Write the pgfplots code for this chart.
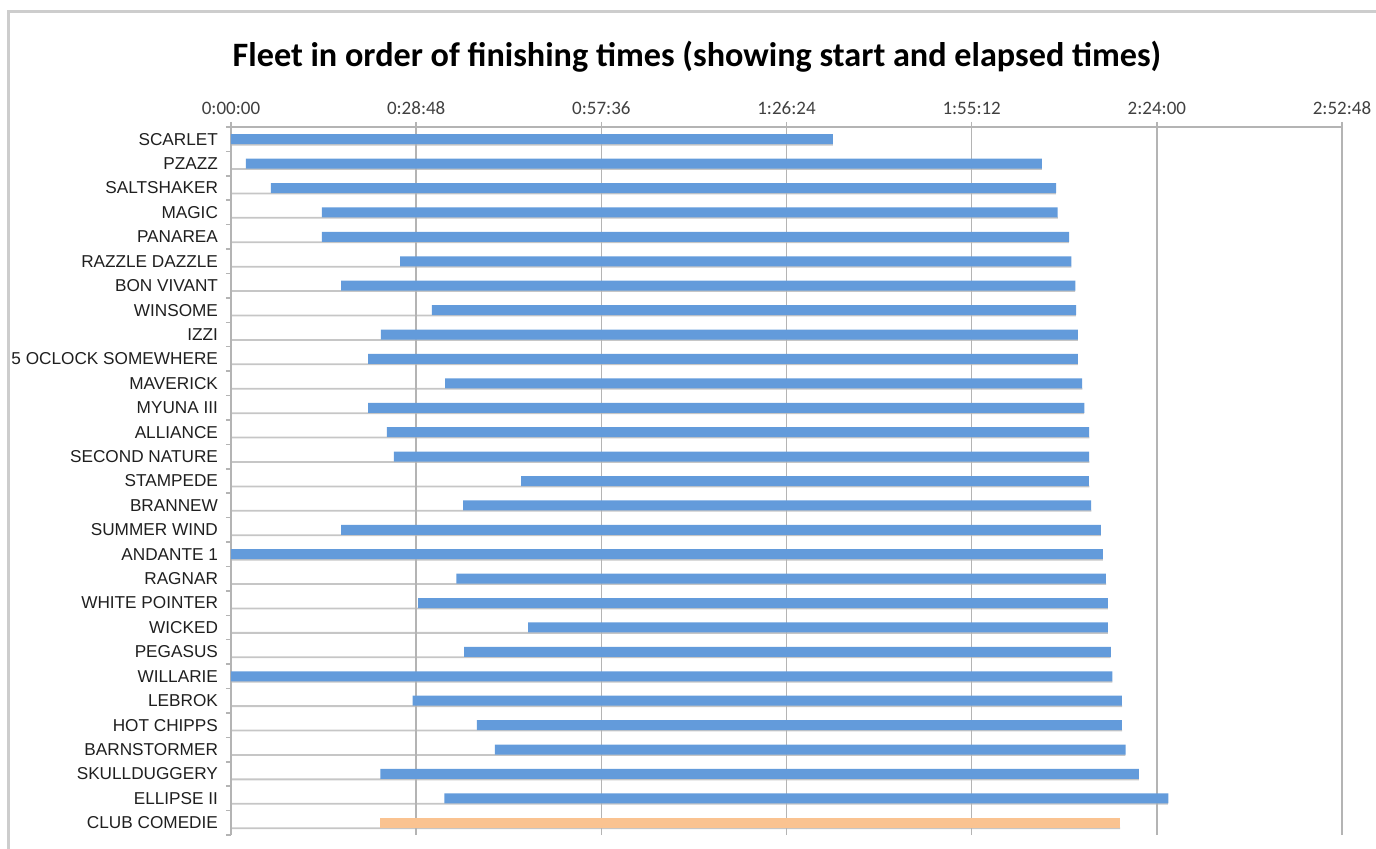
\documentclass[border=0pt]{standalone}
\usepackage{fontspec}
\setmainfont{Liberation Sans}
\newfontfamily\carlito{Carlito}
\usepackage{pgfplots}
\usepackage{pgfplotstable}
\pgfplotsset{compat=1.18}
\definecolor{barblue}{RGB}{99,155,219}
\definecolor{barorange}{RGB}{250,195,145}
\definecolor{gridgray}{RGB}{180,180,180}
\definecolor{framegray}{RGB}{205,205,205}
\pgfplotstableread{
y  s      blue   orange total
28 0      93.6   0      93.6
27 2.33   123.8  0      126.1
26 6.22   122.1  0      128.3
25 14.15  114.4  0      128.6
24 14.15  116.2  0      130.3
23 26.29  104.4  0      130.7
22 17.11  114.2  0      131.3
21 31.26  100.2  0      131.4
20 23.33  108.4  0      131.7
19 21.31  110.4  0      131.7
18 33.29  99.1   0      132.4
17 21.31  111.4  0      132.7
16 24.26  109.2  0      133.5
15 25.35  108.1  0      133.5
14 45.11  88.3   0      133.5
13 36.09  97.7   0      133.8
12 17.11  118.2  0      135.3
11 0      135.6  0      135.6
10 35.07  101.0  0      136.1
9  29.09  107.3  0      136.4
8  46.20  90.2   0      136.4
7  36.24  100.6  0      136.8
6  0      137.1  0      137.1
5  28.26  110.3  0      138.6
4  38.26  100.3  0      138.6
3  41.06  98.1   0      139.1
2  23.22  118.0  0      141.2
1  33.18  112.6  0      145.7
0  23.18  0      115.1  138.3
}\data
\begin{document}
\begin{tikzpicture}[x=1pt,y=1pt]
\useasboundingbox (0,0) rectangle (688,424);
\draw[line width=1.5pt, color=framegray] (4,-10) -- (4,418) -- (700,418);
\node[font=\carlito\bfseries\fontsize{17.1}{20}\selectfont] at (348.5,395.5) {Fleet in order of finishing times (showing start and elapsed times)};
% shadows of bars
\begin{axis}[at={(115.5pt,6.5pt)}, anchor=south west, scale only axis,
  width=555.5pt, height=354pt, xmin=0, xmax=172.8, ymin=-0.5, ymax=28.5,
  hide axis, xbar, bar width=0.9pt, bar shift=-2.7pt]
\addplot[fill=gray!45, draw=none] table[x=total,y=y]{\data};
\end{axis}
\begin{axis}[at={(115.5pt,6.5pt)}, anchor=south west, scale only axis,
  width=555.5pt, height=354pt, xmin=0, xmax=172.8, ymin=-0.5, ymax=28.5,
  xbar stacked, bar width=5pt,
  axis x line*=top, axis y line*=left,
  axis line style={gridgray, line width=0.75pt, -},
  tick align=outside, major tick length=2.5pt,
  tick style={gridgray, line width=0.75pt},
  xtick={0,28.8,57.6,86.4,115.2,144,172.8},
  xticklabels={0:00:00,0:28:48,0:57:36,1:26:24,1:55:12,2:24:00,2:52:48},
  xticklabel style={font=\carlito\fontsize{9.5}{11}\selectfont, text=black!75},
  xmajorgrids, major grid style={gridgray, line width=0.75pt},
  ytick={-0.5,0.5,...,28.5}, yticklabels={},
  extra y ticks={0,1,...,28},
  extra y tick labels={CLUB COMEDIE,ELLIPSE II,SKULLDUGGERY,BARNSTORMER,HOT CHIPPS,LEBROK,WILLARIE,PEGASUS,WICKED,WHITE POINTER,RAGNAR,ANDANTE 1,SUMMER WIND,BRANNEW,STAMPEDE,SECOND NATURE,ALLIANCE,MYUNA III,MAVERICK,5 OCLOCK SOMEWHERE,IZZI,WINSOME,BON VIVANT,RAZZLE DAZZLE,PANAREA,MAGIC,SALTSHAKER,PZAZZ,SCARLET},
  extra y tick style={major tick length=0pt, yticklabel style={font=\fontsize{8.6}{10}\selectfont, text=black!88, xshift=-3pt}},
]
\addplot[fill=none, draw=none] table[x=s,y=y]{\data};
\addplot[fill=barblue, draw=none] table[x=blue,y=y]{\data};
\addplot[fill=barorange, draw=none] table[x=orange,y=y]{\data};
\end{axis}
\end{tikzpicture}
\end{document}
